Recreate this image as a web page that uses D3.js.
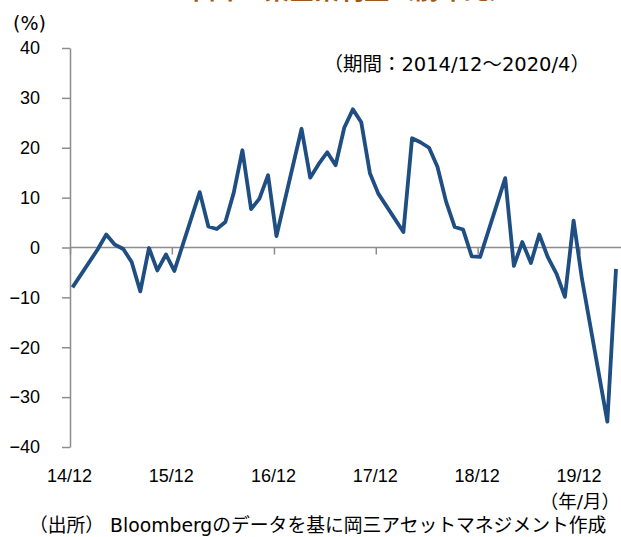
<!DOCTYPE html>
<html>
<head>
    <meta charset="utf-8">
    <script src="https://cdn.jsdelivr.net/npm/d3@7"></script>
    <style>
        body { margin: 0; background: #fff; }
        #my-svg {
            width: 621px;
            height: 537px;
            font-family: "DejaVu Sans", "Noto Sans CJK JP", sans-serif;
        }
    </style>
</head>
<body>

    <svg id="my-svg"></svg>

<script type="module">
    // monthly yoy (%), Jan/Feb not published as single months
    const months = [
        "2014/12",
        "2015/03", "2015/04", "2015/05", "2015/06", "2015/07", "2015/08", "2015/09", "2015/10", "2015/11", "2015/12",
        "2016/03", "2016/04", "2016/05", "2016/06", "2016/07", "2016/08", "2016/09", "2016/10", "2016/11", "2016/12",
        "2017/03", "2017/04", "2017/05", "2017/06", "2017/07", "2017/08", "2017/09", "2017/10", "2017/11", "2017/12",
        "2018/03", "2018/04", "2018/05", "2018/06", "2018/07", "2018/08", "2018/09", "2018/10", "2018/11", "2018/12",
        "2019/03", "2019/04", "2019/05", "2019/06", "2019/07", "2019/08", "2019/09", "2019/10", "2019/11", "2019/12",
        "2020/03", "2020/04"
    ];
    const values = [
        -8.0,
        -0.4, 2.6, 0.6, -0.3, -2.9, -8.8, -0.1, -4.6, -1.4, -4.7,
        11.1, 4.2, 3.7, 5.1, 11.0, 19.5, 7.7, 9.8, 14.5, 2.3,
        23.8, 14.0, 16.7, 19.1, 16.5, 24.0, 27.7, 25.1, 14.9, 10.8,
        3.1, 21.9, 21.1, 20.0, 16.2, 9.2, 4.1, 3.6, -1.8, -1.9,
        13.9, -3.7, 1.1, -3.1, 2.6, -2.0, -5.3, -9.9, 5.4, -6.3,
        -34.9, -4.3
    ];
    const yTicks = [40, 30, 20, 10, 0, -10, -20, -30, -40];
    const xTickMonths = ["2014/12", "2015/12", "2016/12", "2017/12", "2018/12", "2019/12"];
    const xTickLabels = ["14/12", "15/12", "16/12", "17/12", "18/12", "19/12"];

    const parse = d3.timeParse("%Y/%m");
    const data = months.map((m, i) => ({ date: parse(m), value: values[i] }));

    const svg = d3.select("#my-svg");
    const left = 70, right = 621;

    let x = d3.scaleTime()
        .domain([parse("2014/12"), parse("2020/04")])
        .range([72.5, 616]);
    let y = d3.scaleLinear()
        .domain([-40, 40])
        .range([447, 48]);

    // title (cut off at the top edge, as in the source)
    svg.append("text")
        .attr("x", 349)
        .attr("y", -1)
        .attr("text-anchor", "middle")
        .attr("font-family", "Noto Sans CJK JP")
        .attr("font-weight", "bold")
        .attr("font-size", 25)
        .attr("fill", "#a0581a")
        .text("中国 工業企業利益（前年比）");

    // y axis
    const yAxis = svg.append("g")
        .attr("transform", `translate(${left},0)`)
        .call(d3.axisLeft(y).tickValues(yTicks).tickSize(8).tickPadding(22).tickSizeOuter(0));
    yAxis.selectAll("line, path").attr("stroke", "#8c8c8c").attr("stroke-width", 1.5);
    yAxis.selectAll("text").attr("font-size", 18).attr("fill", "#000");

    // zero line + month ticks
    svg.append("line")
        .attr("x1", left).attr("x2", right)
        .attr("y1", y(0)).attr("y2", y(0))
        .attr("stroke", "#8c8c8c").attr("stroke-width", 1.5);
    const xAxis = svg.append("g")
        .attr("transform", `translate(-2.5,${y(0)})`)
        .call(d3.axisBottom(x).tickValues(xTickMonths.map(parse)).tickSize(7).tickFormat(""));
    xAxis.select(".domain").remove();
    xAxis.selectAll("line").attr("stroke", "#8c8c8c").attr("stroke-width", 1.5);

    // month labels at the bottom
    const xLab = svg.append("g")
        .attr("transform", `translate(-3.5,${y(-40)})`)
        .call(d3.axisBottom(x).tickValues(xTickMonths.map(parse)).tickSize(0).tickPadding(22)
            .tickFormat((d, i) => xTickLabels[i]));
    xLab.select(".domain").remove();
    xLab.selectAll("text").attr("font-size", 18).attr("fill", "#000");

    // line
    const line = d3.line()
        .x(d => x(d.date))
        .y(d => y(d.value));
    svg.append("path")
        .datum(data)
        .attr("d", line)
        .attr("fill", "none")
        .attr("stroke", "#1f4e82")
        .attr("stroke-width", 3.8)
        .attr("stroke-linejoin", "round");

    // texts
    svg.append("text")
        .attr("x", 13).attr("y", 30)
        .attr("font-size", 19)
        .text("(%)");
    svg.append("text")
        .attr("x", 590).attr("y", 71)
        .attr("text-anchor", "end")
        .attr("font-size", 19.5)
        .text("（期間：2014/12～2020/4）");
    svg.append("text")
        .attr("x", 620).attr("y", 508)
        .attr("text-anchor", "end")
        .attr("font-size", 18.5)
        .text("（年/月）");
    svg.append("text")
        .attr("x", 29).attr("y", 532)
        .attr("font-size", 18.8)
        .text("（出所） Bloombergのデータを基に岡三アセットマネジメント作成");
</script>
</body>
</html>
